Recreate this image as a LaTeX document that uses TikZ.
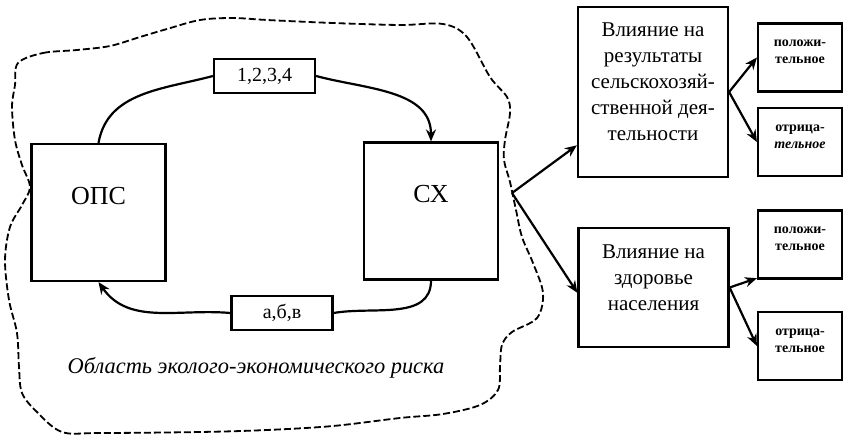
\documentclass[tikz,border=0pt]{standalone}
\usepackage{fontspec}
\setmainfont{Liberation Serif}
\usetikzlibrary{arrows.meta}

\begin{document}
\begin{tikzpicture}[x=0.5pt,y=0.5pt,line width=1.1pt,
	mainbox/.style={draw,inner sep=0pt,minimum width=67pt,text height=30pt,text depth=38.5pt,font=\fontsize{13}{15}\selectfont},
	tagbox/.style={draw,inner sep=0pt,minimum width=50.5pt,minimum height=17pt,font=\fontsize{10}{12}\selectfont},
	infobox/.style={draw,inner sep=0pt,minimum width=75pt,align=center,font=\fontsize{10.5}{13}\selectfont},
	smallbox/.style={draw,inner sep=0pt,minimum width=42pt,minimum height=34pt,align=center,font=\fontsize{7}{8.5}\selectfont\bfseries},
	arr/.style={-{Stealth[length=6pt,width=5pt]}}]
	\useasboundingbox (0,0) rectangle (846,435);
	\draw[line width=0.9pt,dash pattern=on 3.5pt off 1.5pt] plot[smooth cycle,tension=0.55] coordinates {
		(18,372) (43,382) (77,385) (110,389) (140,398) (167,406) (200,415) (233,417) (267,415)
		(333,412) (400,410) (443,411) (467,398) (490,358) (507,338) (510,322) (505,295) (504,275)
		(510,253) (516,225) (522,198) (533,172) (543,142) (537,117) (512,103) (502,90) (500,68)
		(498,45) (480,30) (443,21) (400,17) (333,9) (267,5) (200,3) (100,2) (62,3) (37,23) (22,42)
		(19,68) (17,102) (9,135) (5,175) (10,208) (22,230) (30,248) (22,270) (15,295) (12,328) (15,350)};
	\node[mainbox] (ops) at (98.5,222.5) {ОПС};
	\node[mainbox] (sx) at (431,224) {СХ};
	\node[tagbox] (fact) at (264.5,359) {1,2,3,4};
	\node[tagbox] (back) at (282,122) {а,б,в};
	\node[font=\fontsize{11.2}{13}\selectfont\itshape] (area) at (256,67) {Область эколого-экономического риска};
	\node[infobox,minimum height=85pt] (agro) at (653,343) {Влияние на\\результаты\\сельскохозяй-\\ственной дея-\\тельности\\[-3pt]\mbox{}};
	\node[infobox,minimum height=59.5pt] (health) at (653.5,147.5) {Влияние на\\здоровье\\населения\\[-3pt]\mbox{}};
	\node[smallbox] (agropos) at (800,377.5) {положи-\\тельное\\[-3pt]\mbox{}};
	\node[smallbox] (agroneg) at (800,293) {отрица-\\\textit{тельное}\\[-3pt]\mbox{}};
	\node[smallbox] (healthpos) at (800,190.5) {положи-\\тельное\\[-3pt]\mbox{}};
	\node[smallbox] (healthneg) at (800,89) {отрица-\\тельное\\[-3pt]\mbox{}};
	\coordinate (fork) at (512,242);
	\draw (ops.north) to[out=80,in=195] (fact.west);
	\draw[arr] (fact.east) to[out=-15,in=90] (sx.north);
	\draw (sx.south) to[out=-90,in=10] (back.east);
	\draw[arr] (back.west) to[out=175,in=-55] (ops.south);
	\draw[arr] (fork) -- (agro.215);
	\draw[arr] (fork) -- (health.184);
	\draw[arr] (agro.east) -- (agropos.west);
	\draw[arr] (agro.east) -- (agroneg.west);
	\draw[arr] (health.east) -- (healthpos.218);
	\draw[arr] (health.east) -- (healthneg.west);
\end{tikzpicture}
\end{document}
